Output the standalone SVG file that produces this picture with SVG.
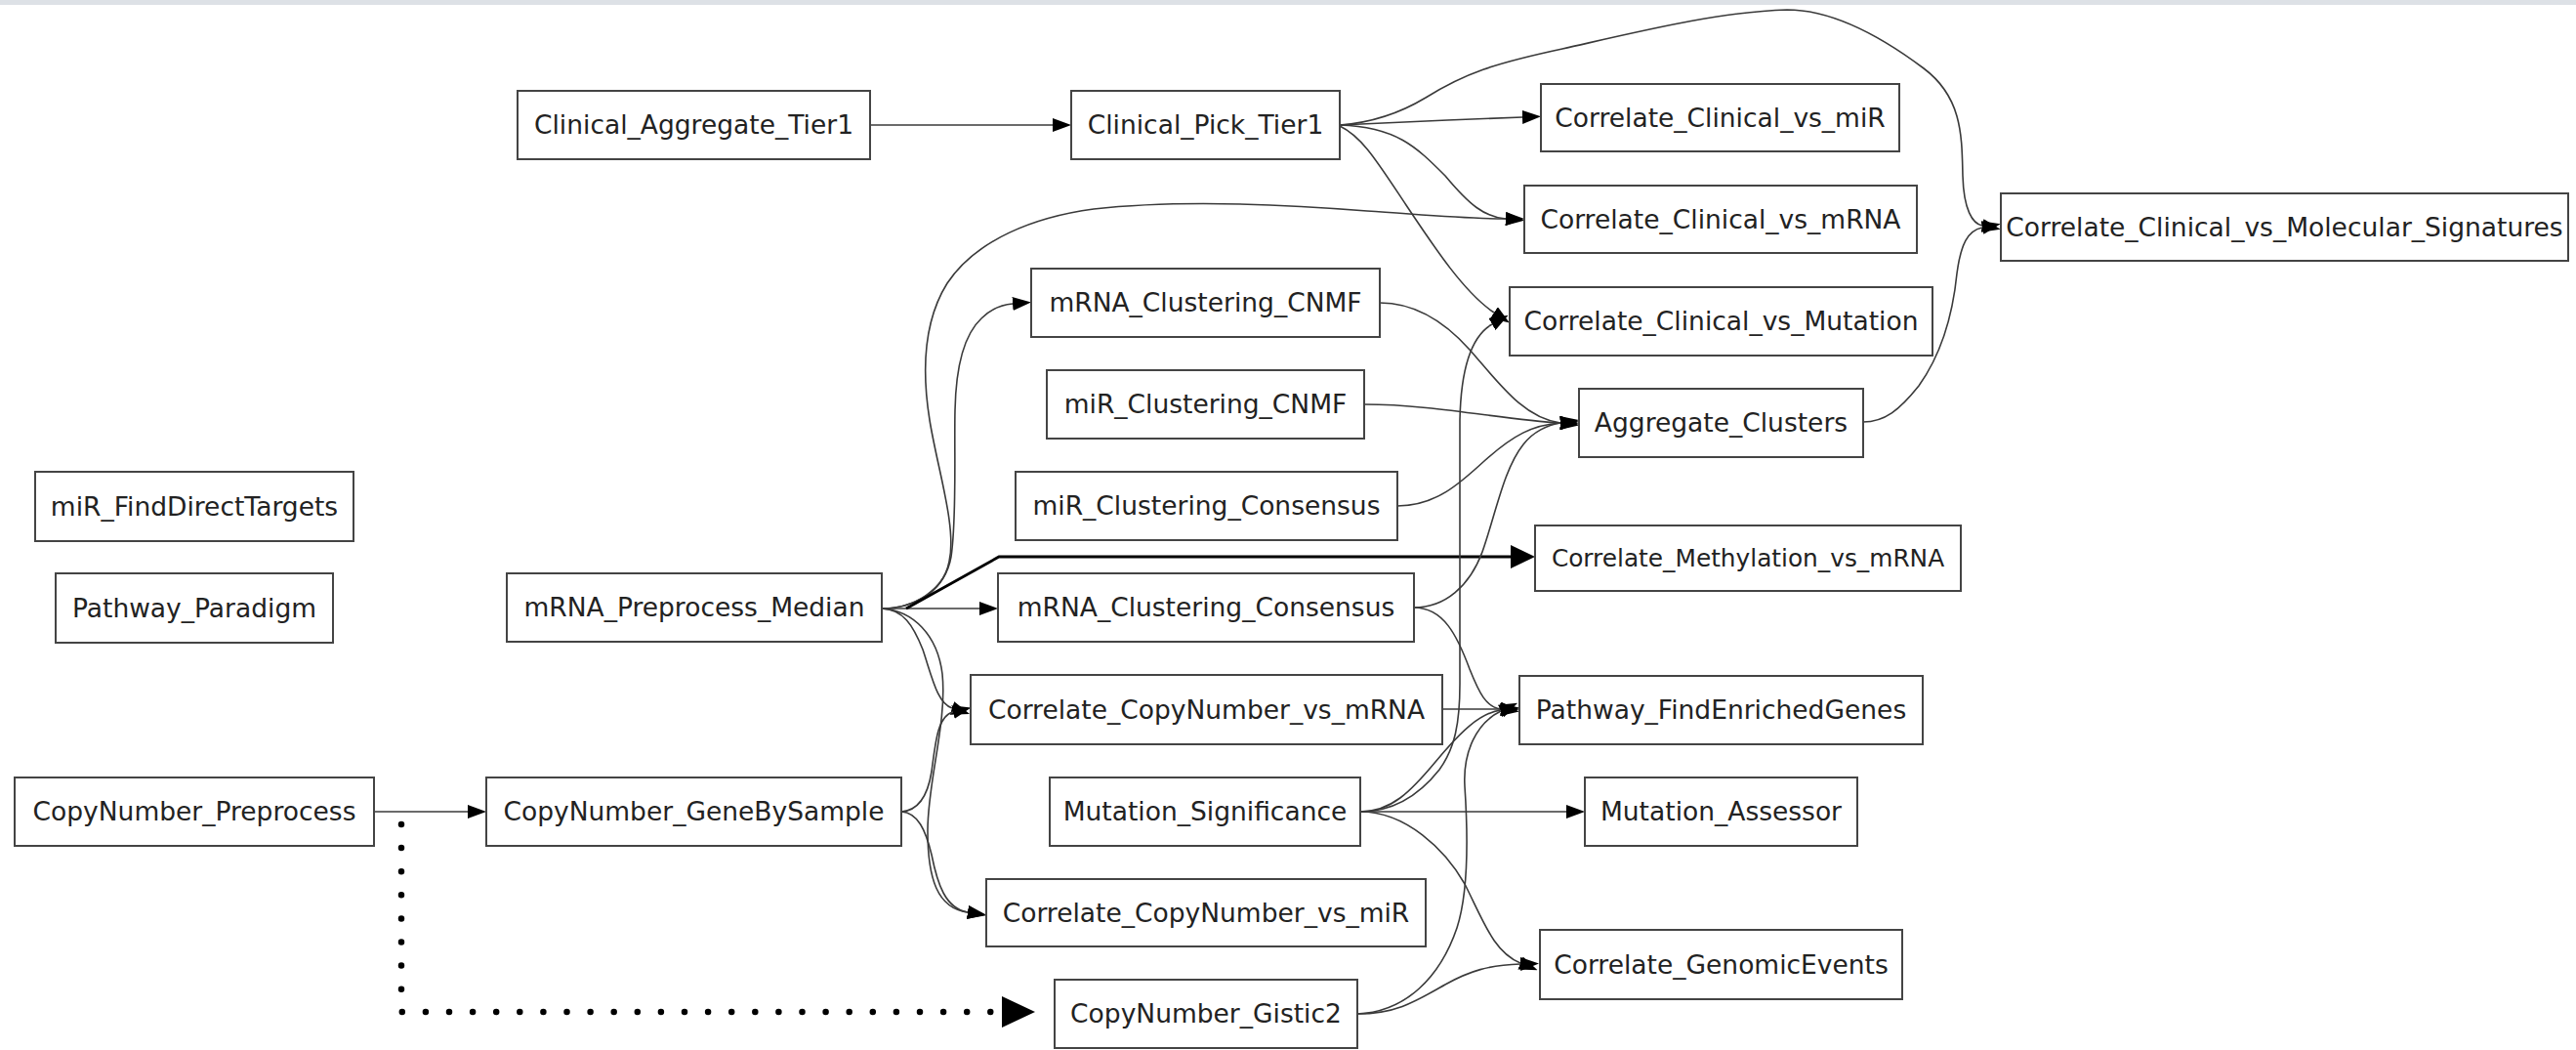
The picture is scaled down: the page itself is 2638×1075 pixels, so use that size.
<svg xmlns="http://www.w3.org/2000/svg" width="2638" height="1075" viewBox="0 0 2638 1075">
  <style>
    .node rect { fill: #ffffff; stroke: #444444; stroke-width: 2; }
    .node text { font-family: "DejaVu Sans", "Liberation Sans", sans-serif; font-size: 26.5px; fill: #222222; text-anchor: middle; }
    .node text.small { font-size: 24.8px; }
    .edge { fill: none; stroke: #3a3a3a; stroke-width: 1.6; marker-end: url(#arr); }
    .edge.bold { stroke: #000000; stroke-width: 2.8; marker-end: url(#arrBig); }
    .edge.dotted { stroke: #000000; stroke-width: 6.5; stroke-linecap: round; stroke-dasharray: 0 24.1; marker-end: url(#arrDot); }
  </style>
  <defs>
    <marker id="arr" markerUnits="userSpaceOnUse" viewBox="0 -7 19 14" refX="0" refY="0" markerWidth="19" markerHeight="14" orient="auto">
      <path d="M0,-7 L19,0 L0,7 Z" fill="#000000" stroke="none"/>
    </marker>
    <marker id="arrBig" markerUnits="userSpaceOnUse" viewBox="0 -12 25 24" refX="0" refY="0" markerWidth="25" markerHeight="24" orient="auto">
      <path d="M0,-12 L25,0 L0,12 Z" fill="#000000" stroke="none"/>
    </marker>
    <marker id="arrDot" markerUnits="userSpaceOnUse" viewBox="0 -16 34 32" refX="0" refY="0" markerWidth="34" markerHeight="32" orient="auto">
      <path d="M0,-16 L34,0 L0,16 Z" fill="#000000" stroke="none"/>
    </marker>
  </defs>

  <rect x="0" y="0" width="2638" height="1075" fill="#ffffff"/>
  <rect x="0" y="0" width="2638" height="5" fill="#dde1e6"/>

  <g id="connectors">
    <!-- clinical chain -->
    <path class="edge" d="M891,128 L1078,128"/>
    <path class="edge" d="M1372,128 C1420,126 1500,122 1559,120"/>
    <path class="edge" d="M1372,128 C1430,130 1450,150 1480,180 C1505,210 1520,222 1542,224"/>
    <path class="edge" d="M1372,129 C1395,140 1410,165 1440,210 C1470,255 1500,300 1530,320"/>
    <path class="edge" d="M1372,128 C1400,126 1430,118 1460,100 C1500,75 1530,65 1600,50 C1680,32 1760,12 1830,10 C1880,10 1930,40 1970,70 C2010,100 2009,140 2010,180 C2011,215 2020,229 2030,231"/>
    <path class="edge" d="M1908,432 C1930,432 1945,420 1965,395 C1990,360 2000,320 2004,280 C2008,250 2015,236 2030,233"/>

    <!-- mRNA preprocess fan-out -->
    <path class="edge" d="M903,623 C930,623 965,610 972,575 C980,540 960,480 952,430 C944,380 945,330 970,290 C1000,245 1060,222 1120,214 C1200,205 1300,208 1400,216 C1460,220 1500,224 1542,224"/>
    <path class="edge" d="M903,623 C935,623 968,605 974,570 C980,530 977,460 978,420 C979,370 990,340 1005,326 C1015,316 1025,312 1037,311"/>
    <path class="edge" d="M903,623 L1003,623"/>
    <path class="edge bold" d="M928,623 L1023,570 L1547,570"/>
    <path class="edge" d="M903,623 C925,624 935,640 945,665 C955,695 960,720 975,725"/>
    <path class="edge" d="M903,623 C935,625 960,650 965,690 C970,740 950,800 950,850 C950,900 960,930 991,934"/>

    <!-- copy number -->
    <path class="edge" d="M383,831 L479,831"/>
    <path class="edge dotted" d="M411,844 L411,1036 L1026,1036"/>
    <path class="edge" d="M923,831 C940,830 950,815 954,790 C958,760 960,733 976,729"/>
    <path class="edge" d="M923,831 C940,832 948,850 954,875 C960,905 968,930 991,934"/>

    <!-- clustering into aggregate -->
    <path class="edge" d="M1413,310 C1450,310 1480,330 1505,358 C1535,392 1560,428 1598,433"/>
    <path class="edge" d="M1397,414 C1470,414 1540,430 1598,433"/>
    <path class="edge" d="M1431,518 C1470,518 1495,495 1520,472 C1550,445 1570,435 1598,433"/>
    <path class="edge" d="M1448,622 C1480,622 1505,600 1518,565 C1532,525 1540,480 1560,455 C1570,442 1585,435 1598,433"/>

    <!-- pathway enrichment inputs -->
    <path class="edge" d="M1448,622 C1478,622 1492,650 1505,685 C1515,710 1522,724 1537,726"/>
    <path class="edge" d="M1477,726 L1537,726"/>
    <path class="edge" d="M1393,831 C1425,831 1445,810 1470,780 C1495,750 1515,730 1537,727"/>

    <!-- mutation significance -->
    <path class="edge" d="M1393,831 L1604,831"/>
    <path class="edge" d="M1393,831 C1440,831 1480,870 1500,905 C1520,945 1530,975 1557,986"/>
    <path class="edge" d="M1393,831 C1428,831 1455,812 1474,788 C1490,766 1495,740 1495,700 L1495,430 C1496,380 1505,345 1528,332"/>

    <!-- gistic -->
    <path class="edge" d="M1390,1038 C1430,1038 1450,1025 1480,1008 C1505,994 1525,988 1557,987"/>
    <path class="edge" d="M1390,1038 C1440,1036 1475,1000 1492,950 C1505,910 1503,850 1500,805 C1498,770 1512,740 1537,728"/>
  </g>

  <g id="Clinical_Aggregate_Tier1" class="node"><rect x="530" y="93" width="361" height="70"/><text x="710.5" y="137">Clinical_Aggregate_Tier1</text></g>
  <g id="Clinical_Pick_Tier1" class="node"><rect x="1097" y="93" width="275" height="70"/><text x="1234.5" y="137">Clinical_Pick_Tier1</text></g>
  <g id="Correlate_Clinical_vs_miR" class="node"><rect x="1578" y="86" width="367" height="69"/><text x="1761.5" y="129.5">Correlate_Clinical_vs_miR</text></g>
  <g id="Correlate_Clinical_vs_mRNA" class="node"><rect x="1561" y="190" width="402" height="69"/><text x="1762" y="233.5">Correlate_Clinical_vs_mRNA</text></g>
  <g id="Correlate_Clinical_vs_Molecular_Signatures" class="node"><rect x="2049" y="198" width="581" height="69"/><text x="2339.5" y="241.5">Correlate_Clinical_vs_Molecular_Signatures</text></g>
  <g id="mRNA_Clustering_CNMF" class="node"><rect x="1056" y="275" width="357" height="70"/><text x="1234.5" y="319">mRNA_Clustering_CNMF</text></g>
  <g id="Correlate_Clinical_vs_Mutation" class="node"><rect x="1546" y="294" width="433" height="70"/><text x="1762.5" y="338">Correlate_Clinical_vs_Mutation</text></g>
  <g id="miR_Clustering_CNMF" class="node"><rect x="1072" y="379" width="325" height="70"/><text x="1234.5" y="423">miR_Clustering_CNMF</text></g>
  <g id="Aggregate_Clusters" class="node"><rect x="1617" y="398" width="291" height="70"/><text x="1762.5" y="442">Aggregate_Clusters</text></g>
  <g id="miR_FindDirectTargets" class="node"><rect x="36" y="483" width="326" height="71"/><text x="199" y="527.5">miR_FindDirectTargets</text></g>
  <g id="miR_Clustering_Consensus" class="node"><rect x="1040" y="483" width="391" height="70"/><text x="1235.5" y="527">miR_Clustering_Consensus</text></g>
  <g id="Correlate_Methylation_vs_mRNA" class="node"><rect x="1572" y="538" width="436" height="67"/><text class="small" x="1790" y="580">Correlate_Methylation_vs_mRNA</text></g>
  <g id="Pathway_Paradigm" class="node"><rect x="57" y="587" width="284" height="71"/><text x="199" y="631.5">Pathway_Paradigm</text></g>
  <g id="mRNA_Preprocess_Median" class="node"><rect x="519" y="587" width="384" height="70"/><text x="711" y="631">mRNA_Preprocess_Median</text></g>
  <g id="mRNA_Clustering_Consensus" class="node"><rect x="1022" y="587" width="426" height="70"/><text x="1235" y="631">mRNA_Clustering_Consensus</text></g>
  <g id="Correlate_CopyNumber_vs_mRNA" class="node"><rect x="994" y="691" width="483" height="71"/><text x="1235.5" y="735.5">Correlate_CopyNumber_vs_mRNA</text></g>
  <g id="Pathway_FindEnrichedGenes" class="node"><rect x="1556" y="692" width="413" height="70"/><text x="1762.5" y="736">Pathway_FindEnrichedGenes</text></g>
  <g id="CopyNumber_Preprocess" class="node"><rect x="15" y="796" width="368" height="70"/><text x="199" y="840">CopyNumber_Preprocess</text></g>
  <g id="CopyNumber_GeneBySample" class="node"><rect x="498" y="796" width="425" height="70"/><text x="710.5" y="840">CopyNumber_GeneBySample</text></g>
  <g id="Mutation_Significance" class="node"><rect x="1075" y="796" width="318" height="70"/><text x="1234" y="840">Mutation_Significance</text></g>
  <g id="Mutation_Assessor" class="node"><rect x="1623" y="796" width="279" height="70"/><text x="1762.5" y="840">Mutation_Assessor</text></g>
  <g id="Correlate_CopyNumber_vs_miR" class="node"><rect x="1010" y="900" width="450" height="69"/><text x="1235" y="943.5">Correlate_CopyNumber_vs_miR</text></g>
  <g id="Correlate_GenomicEvents" class="node"><rect x="1577" y="952" width="371" height="71"/><text x="1762.5" y="996.5">Correlate_GenomicEvents</text></g>
  <g id="CopyNumber_Gistic2" class="node"><rect x="1080" y="1003" width="310" height="70"/><text x="1235" y="1047">CopyNumber_Gistic2</text></g>
</svg>
